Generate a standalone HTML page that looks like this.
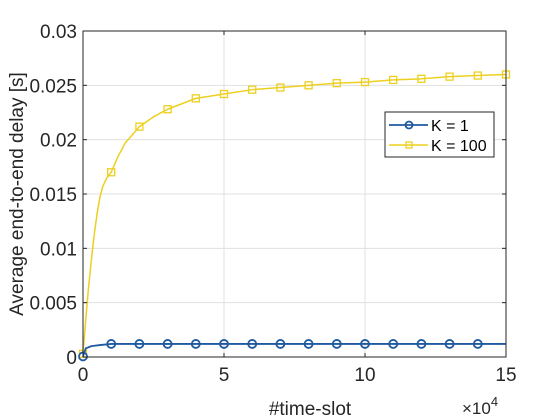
<!DOCTYPE html>
<html><head><style>body{margin:0;background:#fff}svg{display:block;font-family:"Liberation Sans",sans-serif}</style></head>
<body>
<svg id="chart" width="560" height="420">
<rect width="560" height="420" fill="#fff"/>
<g id="grid"></g><g id="series"></g><g id="axes"></g>
</svg>
<script>
const xTicks=[0,5,10,15];
const yTicks=[0,0.005,0.01,0.015,0.02,0.025,0.03];
const yTickLabels=["0","0.005","0.01","0.015","0.02","0.025","0.03"];
const k100X=[0,0.1,0.2,0.3,0.4,0.5,0.6,0.7,0.85,1,1.25,1.5,2,2.5,3,4,5,6,7,8,9,10,11,12,13,14,15];
const k100Y=[0.0003,0.0035,0.0065,0.0090,0.0113,0.0132,0.0147,0.0157,0.0165,0.0170,0.0185,0.0197,0.0212,0.0221,0.0228,0.0238,0.0242,0.0246,0.0248,0.0250,0.0252,0.0253,0.0255,0.0256,0.0258,0.0259,0.0260];
const k100MarkX=[0,1,2,3,4,5,6,7,8,9,10,11,12,13,14,15];
const k1X=[0,0.1,0.3,0.6,1,2,3,4,5,6,7,8,9,10,11,12,13,14,15];
const k1Y=[0.00005,0.0008,0.001,0.0011,0.0012,0.0012,0.0012,0.0012,0.0012,0.0012,0.0012,0.0012,0.0012,0.0012,0.0012,0.0012,0.0012,0.0012,0.0012];
const k1MarkX=[0,1,2,3,4,5,6,7,8,9,10,11,12,13,14];
const L=83,R=506,T=31,B=357;
const sx=v=>L+(v/15)*(R-L), sy=v=>B-(v/0.03)*(B-T);
const NS="http://www.w3.org/2000/svg";
function mk(t,a,p){const e=document.createElementNS(NS,t);for(const k in a)e.setAttribute(k,a[k]);p.appendChild(e);return e;}
const grid=document.getElementById('grid'),ser=document.getElementById('series'),ax=document.getElementById('axes');
xTicks.forEach(v=>{const l=mk('line',{x1:sx(v),x2:sx(v),y1:T,y2:B,stroke:'#e0e0e0'},grid);

});
yTicks.forEach(v=>{const l=mk('line',{x1:L,x2:R,y1:sy(v),y2:sy(v),stroke:'#e0e0e0'},grid);

});
function interp(xs,ys,x){for(let i=0;i<xs.length-1;i++){if(x>=xs[i]&&x<=xs[i+1]){const t=(x-xs[i])/(xs[i+1]-xs[i]);return ys[i]+t*(ys[i+1]-ys[i]);}}return ys[ys.length-1];}
let p=mk('polyline',{points:k100X.map((x,i)=>sx(x)+','+sy(k100Y[i])).join(' '),fill:'none',stroke:'#EDD01F','stroke-width':1.5,'stroke-linejoin':'round'},ser);


k100MarkX.forEach(x=>{const y=interp(k100X,k100Y,x);const r=mk('rect',{x:sx(x)-3.5,y:sy(y)-3.5,width:7,height:7,fill:'none',stroke:'#EDD01F','stroke-width':1.3},ser);

});
p=mk('polyline',{points:k1X.map((x,i)=>sx(x)+','+sy(k1Y[i])).join(' '),fill:'none',stroke:'#1F5AA0','stroke-width':1.8},ser);


k1MarkX.forEach(x=>{const y=interp(k1X,k1Y,x);const c=mk('circle',{cx:sx(x),cy:sy(y),r:4,fill:'none',stroke:'#1F5AA0','stroke-width':1.8},ser);

});
const bx=mk('rect',{x:L,y:T,width:R-L,height:B-T,fill:'none',stroke:'#262626','stroke-width':1},ax);


xTicks.forEach(v=>{mk('line',{x1:sx(v),x2:sx(v),y1:B,y2:B-4,stroke:'#262626'},ax);mk('line',{x1:sx(v),x2:sx(v),y1:T,y2:T+4,stroke:'#262626'},ax);
const t=mk('text',{x:sx(v),y:B+24,'text-anchor':'middle','font-size':19,fill:'#262626'},ax);t.textContent=v;

});
yTicks.forEach((v,i)=>{mk('line',{x1:L,x2:L+4,y1:sy(v),y2:sy(v),stroke:'#262626'},ax);mk('line',{x1:R,x2:R-4,y1:sy(v),y2:sy(v),stroke:'#262626'},ax);
const t=mk('text',{x:L-6,y:sy(v)+7,'text-anchor':'end','font-size':19,fill:'#262626'},ax);t.textContent=yTickLabels[i];

});
</script>
<svg style="position:absolute;left:0;top:0" width="560" height="420">
<text x="310" y="415" text-anchor="middle" font-size="19" fill="#262626" font-family="Liberation Sans,sans-serif">#time-slot</text>
<text transform="translate(23,194) rotate(-90)" text-anchor="middle" font-size="19" fill="#262626" font-family="Liberation Sans,sans-serif">Average end-to-end delay [s]</text>
<text x="462" y="414" font-size="17" fill="#262626" font-family="Liberation Sans,sans-serif">×10<tspan dy="-8" font-size="13">4</tspan></text>
<g>
<rect x="385" y="112" width="109" height="45" fill="#fff" stroke="#262626" stroke-width="1"/>
<line x1="389" x2="428" y1="125" y2="125" stroke="#1F5AA0" stroke-width="1.8"/>
<circle cx="409" cy="125" r="3.5" fill="none" stroke="#1F5AA0" stroke-width="1.8"/>
<text x="431" y="131" font-size="16" fill="#000" font-family="Liberation Sans,sans-serif">K = 1</text>
<line x1="389" x2="428" y1="145" y2="145" stroke="#EDD01F" stroke-width="1.5"/>
<rect x="406" y="142" width="6" height="6" fill="none" stroke="#EDD01F" stroke-width="1.3"/>
<text x="431" y="151" font-size="16" fill="#000" font-family="Liberation Sans,sans-serif">K = 100</text>
</g>
</svg>
</body></html>
